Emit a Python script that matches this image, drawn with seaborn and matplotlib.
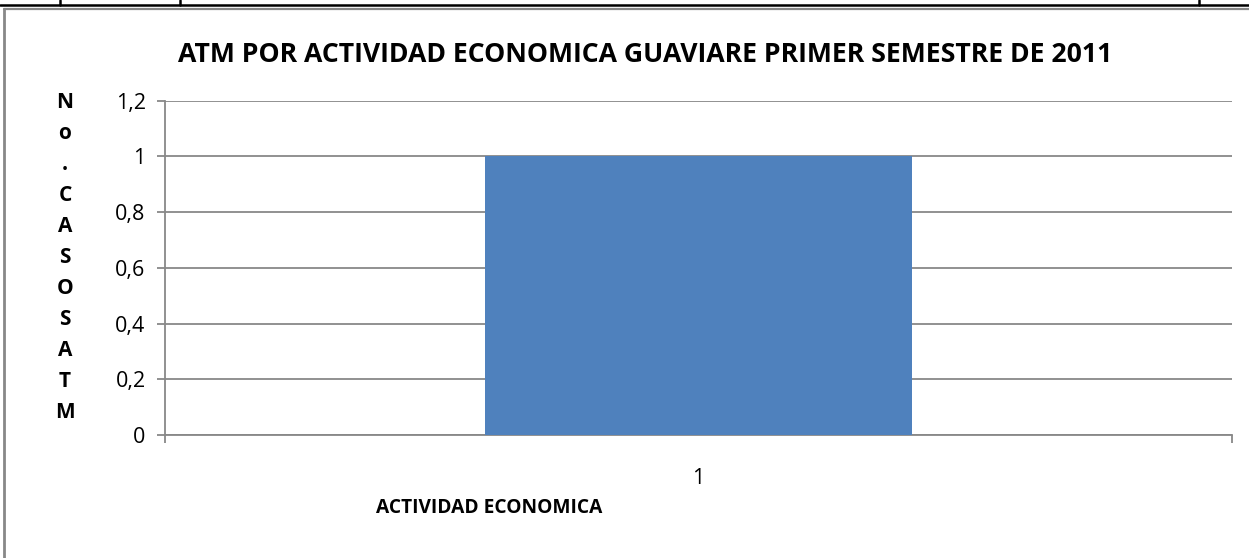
import matplotlib
matplotlib.use("Agg")
import matplotlib.pyplot as plt
import seaborn as sns
import pandas as pd
from matplotlib.lines import Line2D

# datos
categorias = ["1"]
casos = [1]
y_ticks = [0, 0.2, 0.4, 0.6, 0.8, 1.0, 1.2]
y_labels = ["0", "0,2", "0,4", "0,6", "0,8", "1", "1,2"]
titulo = "ATM POR ACTIVIDAD ECONOMICA GUAVIARE PRIMER SEMESTRE DE 2011"
etiqueta_y = "No.CASOSATM"
etiqueta_x = "ACTIVIDAD ECONOMICA"

sns.set_style("white")
plt.rcParams["font.family"] = ["Open Sans", "DejaVu Sans"]
plt.rcParams["text.color"] = "black"
plt.rcParams["xtick.labelcolor"] = "black"
plt.rcParams["ytick.labelcolor"] = "black"

df = pd.DataFrame({"actividad": categorias, "casos": casos})

W, H = 1249, 558
fig = plt.figure(figsize=(W / 100, H / 100), dpi=100)
ax = fig.add_axes([165 / W, 1 - 435 / H, (1232 - 165) / W, (435 - 100.7) / H])

sns.barplot(data=df, x="actividad", y="casos", color="#4F81BD", width=0.4,
            saturation=1, linewidth=0, ax=ax, zorder=3)

gris = "#888888"
ax.set_xlim(-0.5, 0.5)
ax.set_ylim(0, 1.2)
ax.set_yticks(y_ticks)
ax.set_yticklabels(y_labels, fontsize=15.5)
ax.yaxis.grid(True, color=gris, linewidth=1.3, zorder=0)
ax.set_xlabel("")
ax.set_ylabel("")

for s in ["top", "right"]:
    ax.spines[s].set_visible(False)
for s in ["left", "bottom"]:
    ax.spines[s].set_color(gris)
    ax.spines[s].set_linewidth(1.3)

ax.tick_params(axis="y", left=True, length=6, width=1.3, color=gris, pad=8,
               labelcolor="black")
ax.tick_params(axis="x", which="major", length=0, pad=24, labelsize=15.5,
               labelcolor="black")
ax.set_xticks([-0.5, 0.5], minor=True)
ax.tick_params(axis="x", which="minor", bottom=True, length=6, width=1.3, color=gris)

fig.text(645 / W, 1 - 55 / H, titulo, ha="center", va="center",
         fontsize=19.2, fontweight="bold", color="black")
# etiqueta vertical, una letra por renglon
for i, letra in enumerate(etiqueta_y):
    fig.text(65 / W, 1 - (102 + i * 31.1) / H, letra, ha="center", va="center",
             fontsize=15, fontweight="bold", color="black")
fig.text(489 / W, 1 - 508 / H, etiqueta_x, ha="center", va="center",
         fontsize=13.8, fontweight="bold", color="black")

# lineas de la tabla y el marco del documento
fig.add_artist(Line2D([0, 1], [1 - 5 / H, 1 - 5 / H], color="black", linewidth=1.8))
for xv in [60, 180, 1199]:
    fig.add_artist(Line2D([xv / W, xv / W], [1, 1 - 5 / H], color="black", linewidth=1.8))
fig.add_artist(Line2D([4 / W, 1], [1 - 9 / H, 1 - 9 / H], color=gris, linewidth=1.6))
fig.add_artist(Line2D([4 / W, 4 / W], [0, 1 - 9 / H], color=gris, linewidth=2))

fig.savefig("out.png", dpi=100)
